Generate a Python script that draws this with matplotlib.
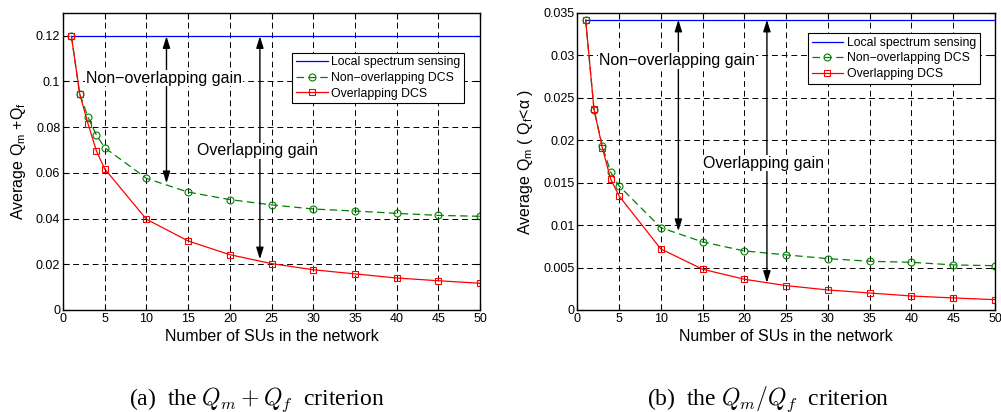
import numpy as np
import matplotlib.pyplot as plt

plt.rcParams['font.family'] = ['Liberation Sans', 'DejaVu Sans']
plt.rcParams['mathtext.default'] = 'it'

# number of SUs
n_su = [1, 2, 3, 4, 5, 10, 15, 20, 25, 30, 35, 40, 45, 50]

# (a) Q_m + Q_f criterion
local_a = 0.1198
nonover_a = [0.1198, 0.0945, 0.0843, 0.0765, 0.0710, 0.0576, 0.0516, 0.0483,
             0.0460, 0.0442, 0.0433, 0.0423, 0.0414, 0.0410]
over_a = [0.1198, 0.0945, 0.0814, 0.0696, 0.0617, 0.0397, 0.0302, 0.0242,
          0.0203, 0.0176, 0.0158, 0.0140, 0.0128, 0.0117]

# (b) Q_m / Q_f criterion
local_b = 0.0342
nonover_b = [0.0342, 0.0236, 0.0193, 0.01624, 0.01462, 0.0097, 0.00802, 0.00696,
             0.00649, 0.00605, 0.00574, 0.00562, 0.00531, 0.00522]
over_b = [0.0342, 0.02367, 0.0191, 0.01541, 0.01344, 0.00719, 0.0048, 0.00362,
          0.00287, 0.00236, 0.0020, 0.00165, 0.00142, 0.00122]

legend_labels = ['Local spectrum sensing', 'Non\u2212overlapping DCS', 'Overlapping DCS']


def draw(ax, local, nonover, over, ylim, yticks, ytl, ylabel, arrows, texts, leg_anchor):
    x = np.array(n_su)
    ax.plot([x[0], x[-1]], [local, local], color='blue', lw=0.9, label=legend_labels[0])
    ax.plot(x, nonover, color=(0, 0.5, 0), ls=(0, (6, 3.5)), lw=0.9, marker='o',
            ms=5, mfc='none', mew=0.8, label=legend_labels[1])
    ax.plot(x, over, color='red', lw=0.9, marker='s', ms=4.5, mfc='none',
            mew=0.8, label=legend_labels[2])

    ax.set_xlim(0, 50)
    ax.set_ylim(*ylim)
    ax.set_xticks(range(0, 51, 5))
    ax.set_yticks(yticks)
    ax.set_yticklabels(ytl)
    ax.grid(True, color='black', ls=(0, (6, 4)), lw=0.7)
    ax.set_axisbelow(True)
    ax.tick_params(direction='in', length=4, width=0.8, labelsize=9, pad=2,
                   top=True, right=True)
    for s in ax.spines.values():
        s.set_linewidth(1.0)
    ax.set_xlabel('Number of SUs in the network', fontsize=11.5, labelpad=3)
    ax.set_ylabel(ylabel, fontsize=11.5, labelpad=6)

    for (xa, y0, y1) in arrows:
        ax.annotate('', xy=(xa, y1), xytext=(xa, y0),
                    arrowprops=dict(arrowstyle='<|-|>,head_length=0.7,head_width=0.22',
                                    color='black', lw=1.0, shrinkA=0, shrinkB=0))
    for (tx, ty, s) in texts:
        ax.text(tx, ty, s, fontsize=11.5, va='center', ha='left', zorder=6,
                bbox=dict(facecolor='white', edgecolor='none', pad=0.5))

    leg = ax.legend(loc='upper right', bbox_to_anchor=leg_anchor, fontsize=8.8,
                    fancybox=False, framealpha=1, edgecolor='black',
                    borderpad=0.3, labelspacing=0.3, handlelength=2.6,
                    handletextpad=0.3, borderaxespad=0)
    leg.set_zorder(7)
    leg.get_frame().set_linewidth(0.8)


fig = plt.figure(figsize=(10.01, 4.12), dpi=100)
ax1 = fig.add_axes([0.063, 0.2476, 0.4166, 0.721])
ax2 = fig.add_axes([0.5767, 0.2476, 0.4173, 0.721])

draw(ax1, local_a, nonover_a, over_a, (0, 0.13),
     [0, 0.02, 0.04, 0.06, 0.08, 0.1, 0.12],
     ['0', '0.02', '0.04', '0.06', '0.08', '0.1', '0.12'],
     'Average Q$_\\mathregular{m}$ +Q$_\\mathregular{f}$',
     [(12.4, 0.1198, 0.0555), (23.6, 0.1198, 0.0222)],
     [(2.75, 0.1014, 'Non\u2212overlapping gain'), (16.0, 0.0697, 'Overlapping gain')],
     (0.962, 0.866))

draw(ax2, local_b, nonover_b, over_b, (0, 0.035),
     [0, 0.005, 0.01, 0.015, 0.02, 0.025, 0.03, 0.035],
     ['0', '0.005', '0.01', '0.015', '0.02', '0.025', '0.03', '0.035'],
     'Average Q$_\\mathregular{m}$ ( Q$_\\mathregular{f}$<\u03b1 )',
     [(12.1, 0.0342, 0.0093), (22.7, 0.0342, 0.0032)],
     [(2.6, 0.0294, 'Non\u2212overlapping gain'), (15.1, 0.0173, 'Overlapping gain')],
     (0.964, 0.932))

fig.text(0.257, 0.017, '(a)  the $Q_m + Q_f$  criterion', ha='center', va='baseline',
         fontsize=17, family='Liberation Serif', math_fontfamily='cm')
fig.text(0.767, 0.017, '(b)  the $Q_m / Q_f$  criterion', ha='center', va='baseline',
         fontsize=17, family='Liberation Serif', math_fontfamily='cm')

fig.savefig('out.png', dpi=100)
